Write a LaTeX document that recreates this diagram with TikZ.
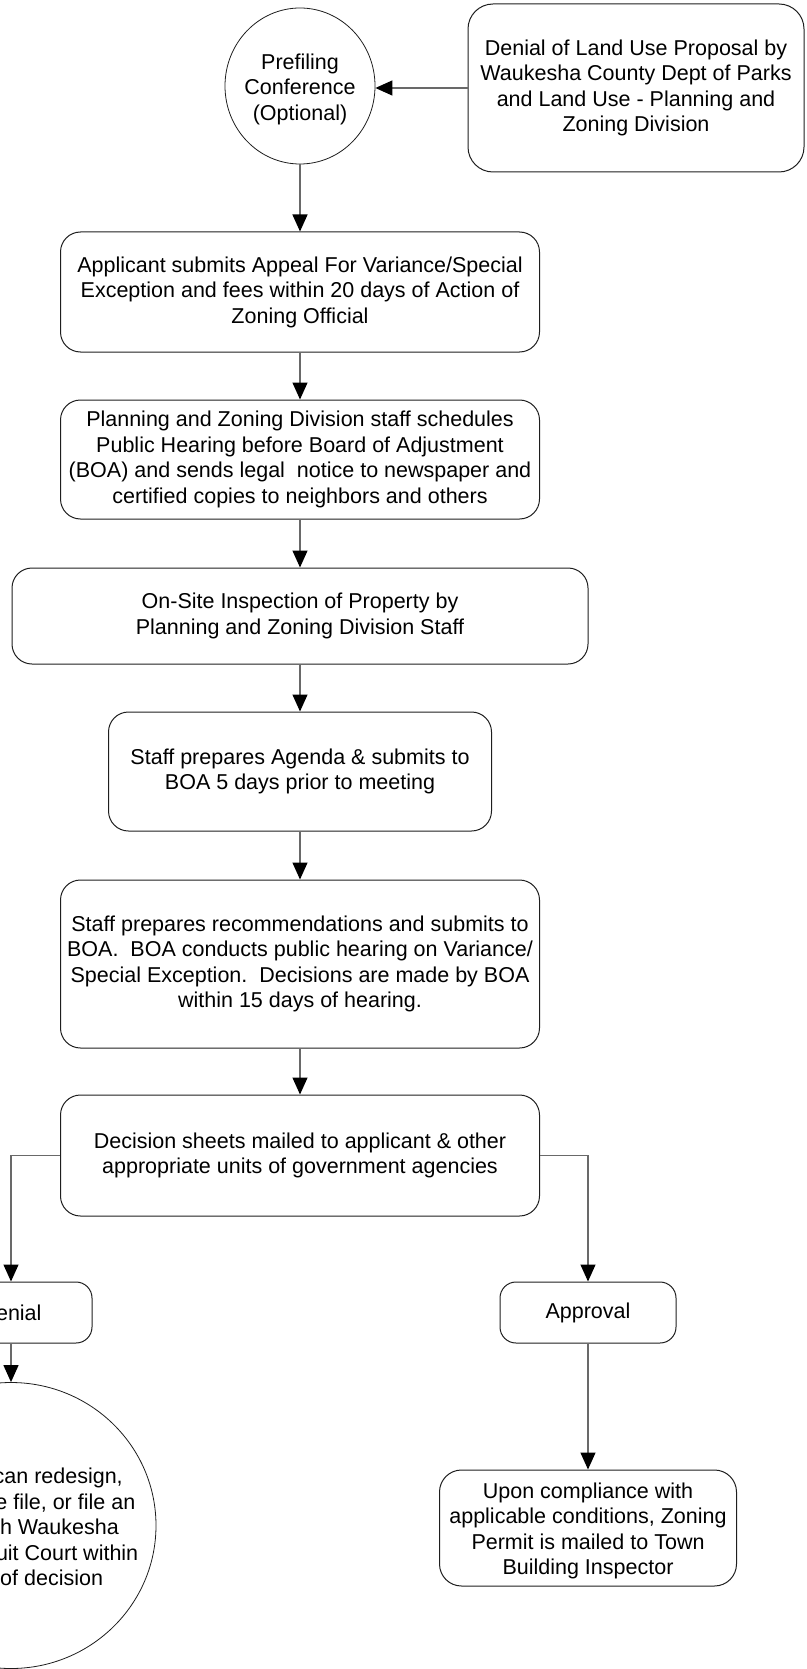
\documentclass[tikz,border=0pt]{standalone}
\usepackage{fontspec}
\setmainfont{Liberation Sans}
\usetikzlibrary{shapes.geometric,arrows.meta}
\definecolor{conn}{RGB}{105,105,105}
\definecolor{edge}{RGB}{30,30,30}
\begin{document}
\begin{tikzpicture}[x=1pt,y=-1pt,
  every node/.style={font=\fontsize{21.5}{25.5}\selectfont, align=center, inner sep=0pt},
  box/.style={draw=edge, line width=1pt, rounded corners=20pt, rectangle},
  smallbox/.style={draw=edge, line width=1pt, rounded corners=16pt, rectangle},
  oval/.style={draw=edge, line width=0.8pt, ellipse},
  conn/.style={draw=conn, line width=1.3pt, -{Triangle[length=17pt,width=15pt,color=black]}}
]
\useasboundingbox (0,0) rectangle (806,1669);
\clip (0,0) rectangle (806,1669);

\node[oval, minimum width=150pt, minimum height=156pt] (pre) at (300,86) {};
\node (pretext) at (300,89) {Prefiling\\Conference\\(Optional)};
\node[box, rounded corners=25pt, minimum width=336pt, minimum height=168pt] (den0) at (636,88)
  {Denial of Land Use Proposal by\\Waukesha County Dept of Parks\\and Land Use - Planning and\\Zoning Division};
\node[box, minimum width=479pt, minimum height=120pt] (app) at (300,292)
  {Applicant submits Appeal For Variance/Special\\Exception and fees within 20 days of Action of\\Zoning Official};
\node[box, minimum width=479pt, minimum height=119pt] (plan) at (300,459.5)
  {Planning and Zoning Division staff schedules\\Public Hearing before Board of Adjustment\\(BOA) and sends legal\ \ notice to newspaper and\\certified copies to neighbors and others};
\node[box, minimum width=576pt, minimum height=96pt] (site) at (300,616)
  {On-Site Inspection of Property by\\Planning and Zoning Division Staff};
\node[box, minimum width=383pt, minimum height=119pt] (agenda) at (300,771.5)
  {Staff prepares Agenda \& submits to\\BOA 5 days prior to meeting};
\node[box, minimum width=479pt, minimum height=168pt] (rec) at (300,964)
  {Staff prepares recommendations and submits to\\BOA.\ \ BOA conducts public hearing on Variance/\\Special Exception.\ \ Decisions are made by BOA\\within 15 days of hearing.};
\node[box, minimum width=479pt, minimum height=121pt] (dec) at (300,1155.5)
  {Decision sheets mailed to applicant \& other\\appropriate units of government agencies};
\node[smallbox, minimum width=162pt, minimum height=61pt] (denial) at (11,1312.5) {Denial};
\node[smallbox, minimum width=176pt, minimum height=61pt] (appr) at (588,1312.5) {Approval};
\node[oval, minimum width=290pt, minimum height=286pt] (final) at (11,1525.5) {};
\node (finaltext) at (11,1529)
  {Applicant can redesign,\\withdraw the file, or file an\\appeal with Waukesha\\County Circuit Court within\\30 days of decision};
\node[smallbox, rounded corners=22pt, minimum width=297pt, minimum height=116pt] (upon) at (588,1528) {};
\node (upontext) at (588,1531)
  {Upon compliance with\\applicable conditions, Zoning\\Permit is mailed to Town\\Building Inspector};

\draw[conn] (den0.west) -- (den0.west -| pre.east);
\draw[conn] (pre.south) -- (app.north);
\draw[conn] (app.south) -- (plan.north);
\draw[conn] (plan.south) -- (site.north);
\draw[conn] (site.south) -- (agenda.north);
\draw[conn] (agenda.south) -- (rec.north);
\draw[conn] (rec.south) -- (dec.north);
\draw[conn] (dec.west) -| (denial.north);
\draw[conn] (dec.east) -| (appr.north);
\draw[conn] (denial.south) -- (final.north);
\draw[conn] (appr.south) -- (upon.north);
\end{tikzpicture}
\end{document}
